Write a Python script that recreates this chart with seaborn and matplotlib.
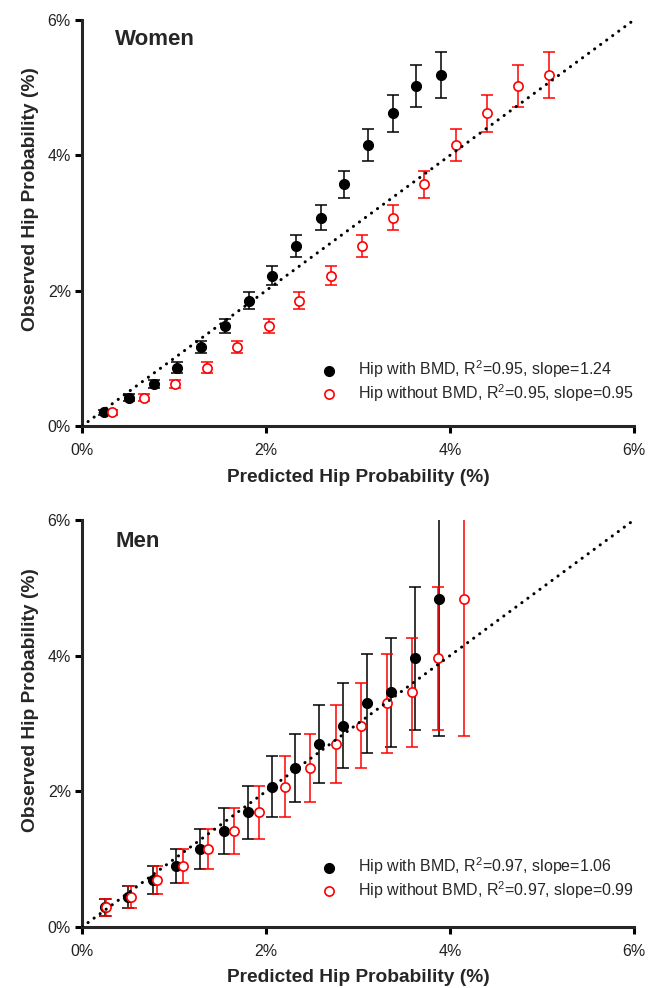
import numpy as np
import pandas as pd
import seaborn as sns
import matplotlib.pyplot as plt

# observed hip fracture probability (%) per risk group, shared by both models
women_obs = [0.20, 0.42, 0.62, 0.86, 1.17, 1.48, 1.85, 2.22, 2.66, 3.08, 3.57, 4.15, 4.62, 5.02, 5.19]
women_pred_bmd = [0.24, 0.51, 0.78, 1.03, 1.29, 1.55, 1.81, 2.07, 2.33, 2.60, 2.85, 3.11, 3.38, 3.63, 3.90]
women_pred_nobmd = [0.33, 0.67, 1.01, 1.36, 1.69, 2.03, 2.36, 2.71, 3.04, 3.38, 3.72, 4.06, 4.40, 4.74, 5.08]
women_err_lo = [0.04, 0.05, 0.065, 0.08, 0.09, 0.105, 0.125, 0.14, 0.16, 0.18, 0.20, 0.24, 0.27, 0.31, 0.34]
women_err_hi = [0.04, 0.05, 0.065, 0.08, 0.09, 0.105, 0.125, 0.14, 0.16, 0.18, 0.20, 0.24, 0.27, 0.31, 0.34]

men_obs = [0.29, 0.44, 0.69, 0.90, 1.15, 1.41, 1.69, 2.07, 2.35, 2.70, 2.97, 3.30, 3.46, 3.96, 4.84]
men_pred_bmd = [0.25, 0.50, 0.77, 1.02, 1.28, 1.54, 1.80, 2.06, 2.32, 2.58, 2.84, 3.10, 3.36, 3.62, 3.88]
men_pred_nobmd = [0.26, 0.53, 0.81, 1.10, 1.37, 1.65, 1.92, 2.21, 2.48, 2.76, 3.03, 3.31, 3.59, 3.87, 4.15]
men_err_lo = [0.13, 0.16, 0.21, 0.25, 0.30, 0.34, 0.39, 0.45, 0.50, 0.58, 0.63, 0.73, 0.80, 1.05, 2.03]
men_err_hi = [0.13, 0.16, 0.21, 0.25, 0.30, 0.34, 0.39, 0.45, 0.50, 0.58, 0.63, 0.73, 0.80, 1.05, 2.40]

women_labels = ["Hip with BMD, R$^2$=0.95, slope=1.24", "Hip without BMD, R$^2$=0.95, slope=0.95"]
men_labels = ["Hip with BMD, R$^2$=0.97, slope=1.06", "Hip without BMD, R$^2$=0.97, slope=0.99"]

ticks = [0, 2, 4, 6]
tick_labels = ["0%", "2%", "4%", "6%"]
diag = [0, 6]

sns.set_style("ticks")
plt.rcParams["font.family"] = ["Liberation Sans", "DejaVu Sans"]
plt.rcParams["mathtext.fontset"] = "custom"
plt.rcParams["mathtext.rm"] = "Liberation Sans"
plt.rcParams["mathtext.it"] = "Liberation Sans:italic"


def panel(ax, title, obs, pred_bmd, pred_nobmd, lo, hi, labels, title_y, ylab_y, xlab_y, leg_y):
    df = pd.DataFrame({"obs": obs, "bmd": pred_bmd, "nobmd": pred_nobmd})

    ax.errorbar(df["bmd"], df["obs"], yerr=[lo, hi], fmt="none", ecolor="black",
                elinewidth=1.1, capsize=4.5, capthick=1.1, zorder=2)
    ax.errorbar(df["nobmd"], df["obs"], yerr=[lo, hi], fmt="none", ecolor="red",
                elinewidth=1.1, capsize=4.5, capthick=1.1, zorder=2)

    sns.scatterplot(data=df, x="bmd", y="obs", ax=ax, color="black", edgecolor="black",
                    s=52, linewidth=0.8, zorder=3, label=labels[0])
    sns.scatterplot(data=df, x="nobmd", y="obs", ax=ax, color="white", edgecolor="red",
                    s=44, linewidth=1.2, zorder=3, label=labels[1])

    ax.plot(diag, diag, color="black", lw=2.2, linestyle=(0, (0.05, 2.4)),
            dash_capstyle="round", zorder=4)

    ax.set_xlim(0, 6)
    ax.set_ylim(0, 6)
    ax.set_xticks(ticks)
    ax.set_xticklabels(tick_labels)
    ax.set_yticks(ticks)
    ax.set_yticklabels(tick_labels)
    sns.despine(ax=ax)
    for s in ["left", "bottom"]:
        ax.spines[s].set_linewidth(2.2)
    ax.tick_params(direction="out", length=5, width=2.2, labelsize=11.5, colors="black")
    ax.tick_params(axis="x", pad=7.5)
    ax.tick_params(axis="y", pad=3)
    for t in ax.get_xticklabels() + ax.get_yticklabels():
        t.set_color("#222222")

    ax.set_xlabel("Predicted Hip Probability (%)", fontsize=13.8, fontweight="bold")
    ax.set_ylabel("Observed Hip Probability (%)", fontsize=13.8, fontweight="bold")
    ax.yaxis.set_label_coords(-0.078, ylab_y)
    ax.xaxis.set_label_coords(0.5, xlab_y)

    ax.text(0.06, title_y, title, transform=ax.transAxes, fontsize=16,
            fontweight="bold", va="baseline")

    h, l = ax.get_legend_handles_labels()
    ax.legend(h, l, loc="lower right", bbox_to_anchor=(1.0, leg_y), frameon=False,
              fontsize=11.5, handletextpad=1.3, labelspacing=0.1, borderaxespad=0,
              borderpad=0, handlelength=1.0)


fig = plt.figure(figsize=(6.55, 9.88), dpi=100)
ax1 = fig.add_axes([0.1252, 0.5688, 0.8427, 0.411])
ax2 = fig.add_axes([0.1252, 0.0617, 0.8427, 0.412])

panel(ax1, "Women", women_obs, women_pred_bmd, women_pred_nobmd, women_err_lo, women_err_hi,
      women_labels, 0.938, 0.56, -0.106, 0.055)
panel(ax2, "Men", men_obs, men_pred_bmd, men_pred_nobmd, men_err_lo, men_err_hi,
      men_labels, 0.933, 0.558, -0.104, 0.065)

fig.savefig("out.png", dpi=100)
